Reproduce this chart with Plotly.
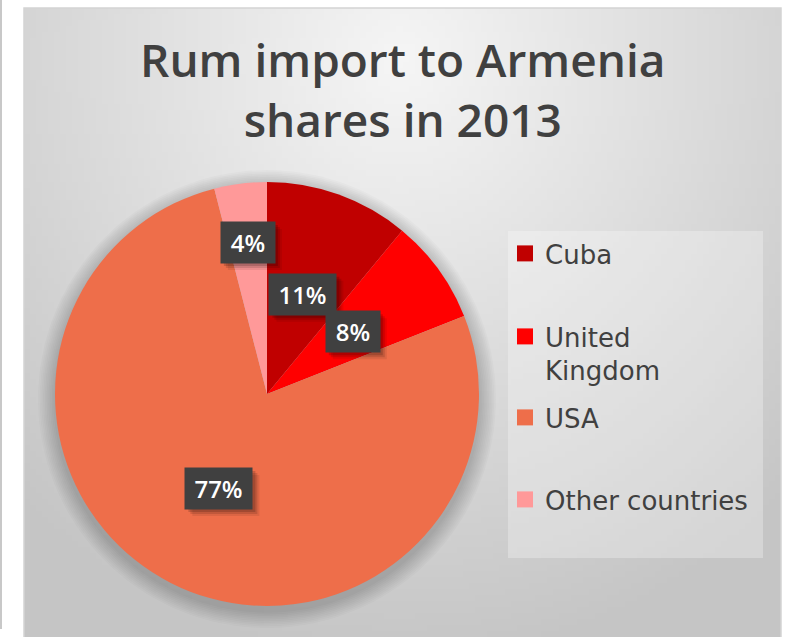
import numpy as np
import plotly.graph_objects as go

# ---- data ----
countries = ["Cuba", "United Kingdom", "USA", "Other countries"]
legend_names = ["Cuba", "United<br>Kingdom", "USA", "Other countries"]
shares = [11, 8, 77, 4]
share_labels = [f"{v}%" for v in shares]
colors = ["#C00000", "#FF0000", "#EE6E4A", "#FF9999"]
title_text = "Rum import to Armenia<br>shares in 2013"

# ---- canvas geometry (pixels) ----
W, H = 788, 637
BOX = (24, 8, 781, 637)          # chart area: left, top, right, bottom
CX, CY, R = 267, 394, 212        # pie centre and radius
label_radius = [0.5, 0.5, 0.5, 0.72]
TEXT = "#404040"
LABEL_SIZE, LABEL_PAD, LABEL_H = 24, 10, 41


def px_x(x):
    return x / W


def px_y(y):
    return 1 - y / H


def label_width(s):
    # rough advance widths for the label font
    w = sum(0.83 if ch == "%" else 0.57 for ch in s) * LABEL_SIZE
    return round(w + 2 * LABEL_PAD)


fig = go.Figure()

# soft radial background of the chart area
nx, ny = 126, 105
dx = (BOX[2] - BOX[0]) / nx
dy = (BOX[3] - BOX[1]) / ny
gx = BOX[0] + dx / 2 + dx * np.arange(nx)
gy = BOX[1] + dy / 2 + dy * np.arange(ny)
GX, GY = np.meshgrid(gx, gy)
rr = np.sqrt(((GX - 400) / 560) ** 2 + ((GY - 60) / 600) ** 2)
bright = 245 - 48 * np.clip(rr, 0, 1)
fig.add_trace(go.Heatmap(
    x=gx, y=gy, z=bright, zmin=0, zmax=255, zsmooth=False,
    colorscale=[[0, "rgb(0,0,0)"], [1, "rgb(255,255,255)"]],
    showscale=False, hoverinfo="skip", xaxis="x", yaxis="y",
))

# blurred drop shadow beneath the pie
t = np.linspace(0, 2 * np.pi, 181)
for k in range(1, 11):
    rad = R + 1.7 * k
    fig.add_trace(go.Scatter(
        x=CX + rad * np.sin(t), y=CY + 5 + rad * np.cos(t),
        mode="lines", line=dict(width=0), fill="toself",
        fillcolor="rgba(0,0,0,0.02)", hoverinfo="skip", showlegend=False,
    ))

# the pie itself
fig.add_trace(go.Pie(
    labels=countries, values=shares, sort=False, direction="clockwise",
    rotation=0, marker=dict(colors=colors, line=dict(width=0)),
    textinfo="none", hoverinfo="label+percent", showlegend=False,
    domain=dict(x=[px_x(CX - R), px_x(CX + R)], y=[px_y(CY + R), px_y(CY - R)]),
))

# one legend per entry so each row can sit at its own height
legend_rows = [254, 337, 418, 500]
legend_ids = ["legend", "legend2", "legend3", "legend4"]
for name, col, lid in zip(legend_names, colors, legend_ids):
    fig.add_trace(go.Scatter(
        x=[None], y=[None], mode="markers", name=name, legend=lid,
        marker=dict(symbol="square", size=16, color=col),
        showlegend=True, hoverinfo="skip",
    ))

legend_layout = {}
for lid, row in zip(legend_ids, legend_rows):
    legend_layout[lid] = dict(
        x=px_x(505), y=px_y(row - 24), xanchor="left", yanchor="top",
        bgcolor="rgba(0,0,0,0)", borderwidth=0, itemwidth=30, valign="top",
        font=dict(family="DejaVu Sans", size=26, color=TEXT),
        itemclick=False, itemdoubleclick=False,
    )

# percentage labels in dark boxes, placed along each slice's mid-angle
annotations = []
shapes = []
total = sum(shares)
cum = 0
for val, lab, frac in zip(shares, share_labels, label_radius):
    mid = (cum + val / 2) / total * 2 * np.pi
    cum += val
    lx = CX + R * frac * np.sin(mid)
    ly = CY - R * frac * np.cos(mid)
    bw = label_width(lab)
    # soft shadow behind the label box
    for off, a in [(7, 0.08), (5, 0.12), (3, 0.16)]:
        shapes.append(dict(
            type="rect", xref="x", yref="y", layer="above",
            x0=lx - bw / 2 + off, x1=lx + bw / 2 + off,
            y0=ly - LABEL_H / 2 + off, y1=ly + LABEL_H / 2 + off,
            fillcolor=f"rgba(0,0,0,{a})", line=dict(width=0),
        ))
    annotations.append(dict(
        x=px_x(lx), y=px_y(ly), xref="paper", yref="paper", text=lab,
        xanchor="center", yanchor="middle", showarrow=False,
        width=bw, height=LABEL_H, borderpad=0, align="center", valign="middle",
        font=dict(family="Open Sans", size=LABEL_SIZE, color="white", weight=600),
        bgcolor="#404040",
    ))

# chart title
annotations.append(dict(
    x=px_x(402), y=px_y(89), xref="paper", yref="paper", text=title_text,
    xanchor="center", yanchor="middle", showarrow=False,
    font=dict(family="Open Sans", size=46, color=TEXT, weight=600),
))

shapes += [
    # legend panel
    dict(type="rect", xref="x", yref="y", x0=508, x1=763, y0=231, y1=558,
         fillcolor="rgba(255,255,255,0.28)", line=dict(width=0), layer="above"),
    # chart frame
    dict(type="rect", xref="x", yref="y", x0=BOX[0], x1=BOX[2], y0=BOX[1], y1=BOX[3] + 2,
         fillcolor="rgba(0,0,0,0)", line=dict(color="#d4d4d4", width=1.5), layer="above"),
    # thin rule at the far left
    dict(type="line", xref="x", yref="y", x0=1, x1=1, y0=0, y1=629,
         line=dict(color="#c8c8c8", width=2), layer="above"),
]

fig.update_layout(
    width=W, height=H, margin=dict(l=0, r=0, t=0, b=0),
    paper_bgcolor="white", plot_bgcolor="white",
    xaxis=dict(range=[0, W], visible=False, fixedrange=True, domain=[0, 1]),
    yaxis=dict(range=[H, 0], visible=False, fixedrange=True, domain=[0, 1]),
    annotations=annotations, shapes=shapes, showlegend=True,
    **legend_layout,
)

fig.write_html("out.html")
